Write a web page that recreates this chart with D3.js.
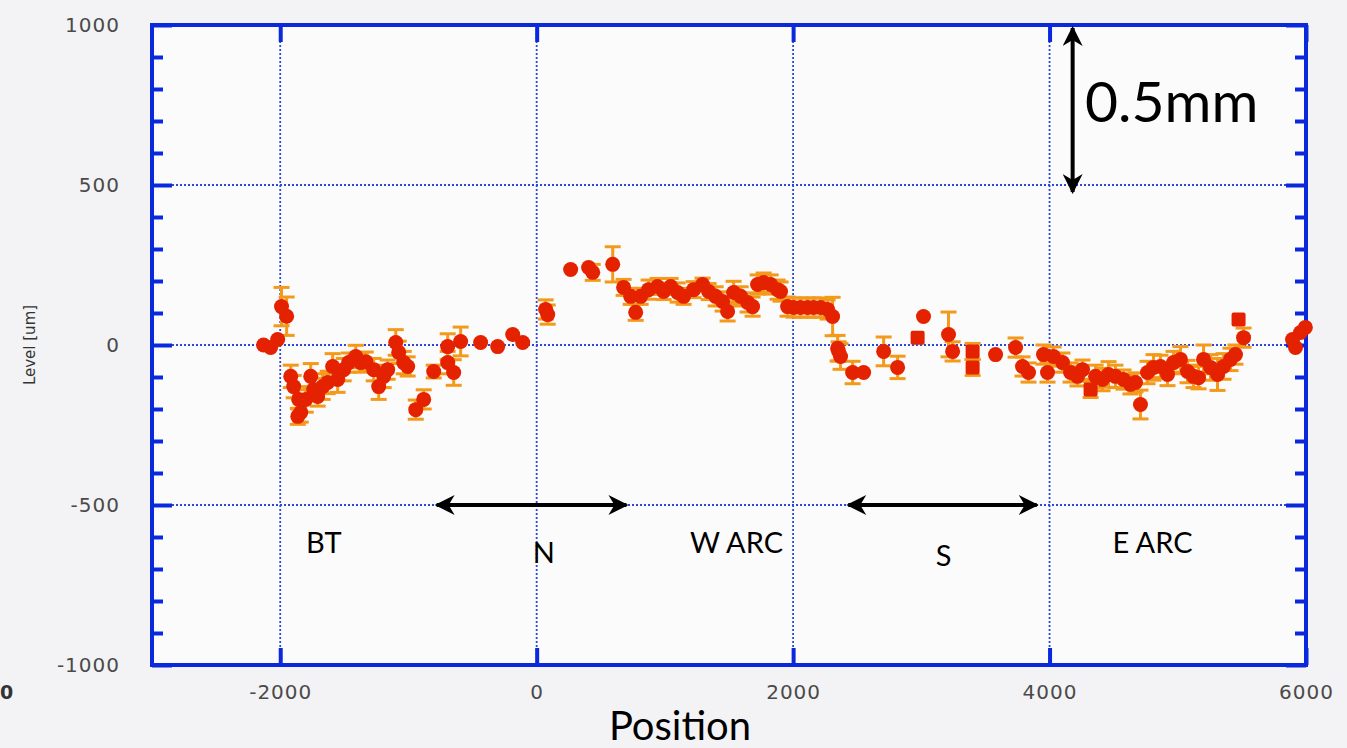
<!DOCTYPE html>
<html>
<head>
<meta charset="utf-8">
<title>Level vs Position</title>
<script src="https://d3js.org/d3.v7.min.js"></script>
<style>
  html, body { margin: 0; padding: 0; background: #f3f3f5; }
  svg { display: block; }
</style>
</head>
<body>
<div id="chart"></div>
<script>
// values
const posX = [
  -2130, -2075, -2020, -1990, -1950, -1918, -1895, -1856, -1863, -1840,
  -1801, -1762, -1739, -1708, -1669, -1630, -1591, -1552, -1505, -1466,
  -1411, -1372, -1333, -1271, -1232, -1193, -1162, -1099, -1076, -1037,
  -1006, -943, -881, -803, -694, -694, -647, -593, -437, -304,
  -187, -109,
  70, 86, 265, 405, 437, 593, 678, 733, 772, 811,
  873, 943, 990, 1045, 1099, 1146, 1224, 1294, 1341, 1396,
  1450, 1489, 1536, 1591, 1645, 1684, 1723, 1770, 1825, 1879,
  1902, 1957, 2004, 2058, 2113, 2160, 2214, 2269, 2308, 2355,
  2347, 2370, 2464, 2550, 2706, 2815, 2971, 3017, 3212, 3244,
  3400, 3400, 3579, 3735, 3789, 3836,
  3953, 3984, 4031, 4101, 4164, 4218, 4257, 4320, 4359, 4413,
  4460, 4514, 4577, 4631, 4670, 4709, 4764, 4811, 4865, 4920,
  4967, 5021, 5076, 5123, 5162, 5201, 5255, 5310, 5357, 5411,
  5450, 5474, 5513, 5895, 5918, 5957, 5995
];
const level = [
  0, -8, 17, 120, 90, -98, -130, -170, -223, -211,
  -170, -98, -139, -161, -130, -117, -67, -108, -77, -55,
  -36, -55, -52, -77, -130, -98, -77, 8, -23, -55,
  -67, -202, -170, -83, -5, -55, -86, 11, 8, -5,
  33, 8,
  111, 95, 236, 242, 227, 252, 180, 152, 102, 152,
  173, 183, 167, 183, 164, 152, 173, 189, 167, 152,
  136, 105, 164, 152, 133, 120, 189, 195, 189, 173,
  167, 120, 117, 117, 117, 117, 117, 111, 89, -20,
  -10, -36, -86, -86, -20, -70, 23, 89, 33, -20,
  -20, -70, -30, -8, -67, -86,
  -30, -86, -36, -55, -86, -98, -77, -139, -98, -108,
  -92, -98, -108, -123, -117, -186, -86, -70, -67, -92,
  -55, -45, -83, -98, -102, -45, -70, -92, -67, -45,
  -30, 80, 23, 17, -8, 39, 55
];
const errHalf = [
  0, 0, 0, 60, 60, 35, 35, 30, 25, 30,
  40, 40, 35, 30, 40, 35, 40, 40, 35, 30,
  35, 30, 30, 35, 40, 35, 30, 40, 35, 35,
  30, 30, 30, 20, 40, 35, 40, 45, 0, 0,
  0, 0,
  30, 30, 0, 0, 25, 55, 25, 25, 25, 25,
  30, 25, 25, 25, 30, 25, 25, 20, 25, 30,
  30, 30, 35, 30, 30, 30, 30, 30, 30, 30,
  30, 30, 30, 30, 30, 30, 30, 30, 60, 30,
  40, 40, 35, 0, 45, 35, 0, 0, 70, 30,
  25, 25, 0, 30, 30, 30,
  30, 30, 30, 30, 30, 30, 30, 25, 35, 35,
  40, 35, 30, 30, 30, 45, 35, 40, 35, 35,
  35, 40, 35, 35, 35, 45, 40, 50, 40, 35,
  30, 0, 30, 0, 0, 0, 0
];
const squarePos = [2971, 3400, 4320, 5474];

const xTicks = [-2000, 0, 2000, 4000, 6000];
const yTicks = [-1000, -500, 0, 500, 1000];
const yMinor = d3.range(-900, 1000, 100).filter(v => v % 500 !== 0);

const sections = ["BT", "N", "W ARC", "S", "E ARC"];
const sectionX = [-1660, 55, 1559, 3173, 4803];
const sectionY = [-650, -680, -650, -690, -650];

const W = 1347, H = 748;
const pLeft = 152, pRight = 1306, pTop = 25, pBottom = 665;

const x = d3.scaleLinear().domain([-3000, 6000]).range([pLeft, pRight]);
const y = d3.scaleLinear().domain([-1000, 1000]).range([pBottom, pTop]);

const svg = d3.select('#chart').append('svg')
  .attr('width', W).attr('height', H);

svg.append('rect').attr('width', W).attr('height', H).attr('fill', '#f3f3f5');
svg.append('rect')
  .attr('x', pLeft).attr('y', pTop)
  .attr('width', pRight - pLeft).attr('height', pBottom - pTop)
  .attr('fill', '#fbfbfc');

const blue = '#0a28dc';

// dotted grid
const grid = svg.append('g')
  .attr('stroke', '#2a48dc').attr('stroke-width', 1.8)
  .attr('stroke-dasharray', '2,2');
grid.selectAll('.gx').data(xTicks.slice(0, 4)).enter().append('line')
  .attr('x1', d => x(d)).attr('x2', d => x(d))
  .attr('y1', pTop).attr('y2', pBottom);
grid.selectAll('.gy').data([-500, 0, 500]).enter().append('line')
  .attr('x1', pLeft).attr('x2', pRight)
  .attr('y1', d => y(d)).attr('y2', d => y(d));

// axes with inward ticks
const tickStyle = g => {
  g.select('.domain').remove();
  g.selectAll('.tick line').attr('stroke', blue).attr('stroke-width', 4);
  g.selectAll('.tick text')
    .attr('fill', '#4a4a4a')
    .style('font-family', 'DejaVu Sans, sans-serif')
    .style('font-size', '20px')
    .style('letter-spacing', '1px');
};
const plain = d => String(d);

svg.append('g').attr('transform', `translate(${pLeft},0)`)
  .call(d3.axisLeft(y).tickValues(yTicks).tickSize(-20).tickPadding(32).tickFormat(plain))
  .call(tickStyle);
svg.append('g').attr('transform', `translate(${pLeft},0)`)
  .call(d3.axisLeft(y).tickValues(yMinor).tickSize(-11).tickFormat(''))
  .call(tickStyle);
svg.append('g').attr('transform', `translate(${pRight},0)`)
  .call(d3.axisRight(y).tickValues(yTicks).tickSize(-20).tickFormat(''))
  .call(tickStyle);
svg.append('g').attr('transform', `translate(${pRight},0)`)
  .call(d3.axisRight(y).tickValues(yMinor).tickSize(-11).tickFormat(''))
  .call(tickStyle);
svg.append('g').attr('transform', `translate(0,${pBottom})`)
  .call(d3.axisBottom(x).tickValues(xTicks).tickSize(-17).tickPadding(20).tickFormat(plain))
  .call(tickStyle);
svg.append('g').attr('transform', `translate(0,${pTop})`)
  .call(d3.axisTop(x).tickValues(xTicks).tickSize(-17).tickFormat(''))
  .call(tickStyle);

// frame
svg.append('rect')
  .attr('x', pLeft).attr('y', pTop)
  .attr('width', pRight - pLeft).attr('height', pBottom - pTop)
  .attr('fill', 'none').attr('stroke', blue).attr('stroke-width', 4);

// stray label at left edge
svg.append('text').attr('x', 0).attr('y', 699)
  .attr('fill', '#333').style('font-family', 'DejaVu Sans, sans-serif')
  .style('font-size', '19px').style('font-weight', 'bold').text('0');

// y label
svg.append('text')
  .attr('transform', `translate(35,${y(0)}) rotate(-90)`)
  .attr('text-anchor', 'middle')
  .attr('fill', '#333')
  .style('font-family', 'DejaVu Sans, sans-serif')
  .style('font-size', '15px')
  .text('Level [um]');

// data
const pts = posX.map((p, i) => ({ p, v: level[i], e: errHalf[i], sq: squarePos.includes(p) }));
const orange = '#f39a1a';

const eb = svg.append('g').attr('stroke', orange).attr('stroke-width', 3);
pts.filter(d => d.e > 0).forEach(d => {
  const cx = x(d.p), y1 = y(d.v + d.e), y2 = y(d.v - d.e);
  eb.append('line').attr('x1', cx).attr('x2', cx).attr('y1', y1).attr('y2', y2);
  eb.append('line').attr('x1', cx - 8).attr('x2', cx + 8).attr('y1', y1).attr('y2', y1);
  eb.append('line').attr('x1', cx - 8).attr('x2', cx + 8).attr('y1', y2).attr('y2', y2);
});

const red = '#e42200';
svg.append('g').selectAll('circle').data(pts.filter(d => !d.sq)).enter().append('circle')
  .attr('cx', d => x(d.p)).attr('cy', d => y(d.v)).attr('r', 7.5)
  .attr('fill', red);
svg.append('g').selectAll('rect').data(pts.filter(d => d.sq)).enter().append('rect')
  .attr('x', d => x(d.p) - 7).attr('y', d => y(d.v) - 7)
  .attr('width', 14).attr('height', 14).attr('rx', 2)
  .attr('fill', red);

// annotations
const defs = svg.append('defs');
defs.append('marker').attr('id', 'ah')
  .attr('viewBox', '0 0 10 10').attr('refX', 9).attr('refY', 5)
  .attr('markerWidth', 6).attr('markerHeight', 5).attr('markerUnits', 'strokeWidth')
  .attr('orient', 'auto-start-reverse')
  .append('path').attr('d', 'M0,0 L10,5 L0,10 L3,5 Z').attr('fill', '#000');

const arrow = (x1, y1, x2, y2) => svg.append('line')
  .attr('x1', x1).attr('y1', y1).attr('x2', x2).attr('y2', y2)
  .attr('stroke', '#000').attr('stroke-width', 4)
  .attr('marker-start', 'url(#ah)').attr('marker-end', 'url(#ah)');

arrow(x(-780), y(-500), x(700), y(-500));
arrow(x(2430), y(-500), x(3900), y(-500));
arrow(x(4180), y(1000) + 3, x(4180), y(500) + 7);

const annoFont = 'Lato, "Open Sans", sans-serif';
svg.append('text').attr('x', 1085).attr('y', 122)
  .style('font-family', annoFont).style('font-size', '57px')
  .attr('fill', '#000').text('0.5mm');

svg.selectAll('.sec').data(sections).enter().append('text')
  .attr('x', (d, i) => x(sectionX[i]))
  .attr('y', (d, i) => y(sectionY[i]))
  .attr('text-anchor', 'middle')
  .style('font-family', annoFont).style('font-size', '29px')
  .attr('fill', '#000').text(d => d);

svg.append('text').attr('x', 680).attr('y', 740)
  .attr('text-anchor', 'middle')
  .style('font-family', annoFont).style('font-size', '40px')
  .attr('fill', '#000').text('Position');
</script>
</body>
</html>
